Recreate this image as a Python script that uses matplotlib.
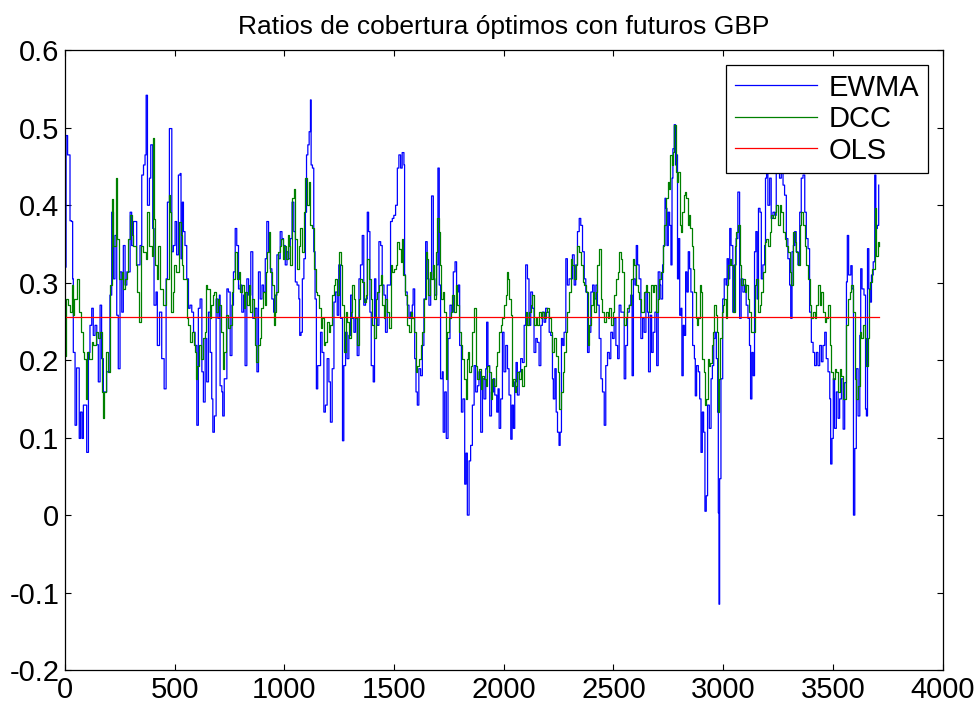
import matplotlib
matplotlib.use('Agg')
import matplotlib.pyplot as plt

# fuente estilo MATLAB (estrecha)
plt.rcParams['font.family'] = ['Liberation Sans Narrow', 'Liberation Sans', 'DejaVu Sans']

TITLE = 'Ratios de cobertura óptimos con futuros GBP'
LABELS = ['EWMA', 'DCC', 'OLS']
OLS_VALUE = 0.256
OLS_RANGE = [1, 3709]
X_TICKS = [0, 500, 1000, 1500, 2000, 2500, 3000, 3500, 4000]
Y_TICKS = [-0.2, -0.1, 0, 0.1, 0.2, 0.3, 0.4, 0.5, 0.6]

# (dia, ratio)
EWMA = [
    (0, 0.32), (5, 0.49), (12, 0.465), (23, 0.38), (30, 0.379), (35, 0.305), (38, 0.21), (46, 0.116),
    (53, 0.19), (65, 0.099), (71, 0.133), (78, 0.099), (84, 0.142), (91, 0.142), (99, 0.081), (107, 0.21),
    (114, 0.245), (122, 0.267), (129, 0.232), (137, 0.245), (145, 0.22), (152, 0.172), (160, 0.271),
    (167, 0.202), (175, 0.159), (190, 0.185), (205, 0.284), (213, 0.391), (221, 0.305), (228, 0.361),
    (236, 0.258), (243, 0.189), (251, 0.314), (259, 0.262), (266, 0.348), (274, 0.297), (282, 0.314),
    (297, 0.391), (304, 0.348), (312, 0.379), (327, 0.323), (342, 0.348), (350, 0.439), (358, 0.452),
    (365, 0.465), (370, 0.542), (376, 0.40), (385, 0.435), (391, 0.478), (400, 0.37), (406, 0.271),
    (415, 0.288), (421, 0.219), (431, 0.262), (441, 0.202), (452, 0.163), (461, 0.305), (467, 0.404),
    (476, 0.499), (487, 0.34), (494, 0.348), (502, 0.379), (509, 0.336), (517, 0.439), (525, 0.441),
    (529, 0.331), (535, 0.404), (540, 0.366), (547, 0.348), (555, 0.305), (563, 0.267), (570, 0.271),
    (578, 0.262), (586, 0.236), (593, 0.219), (601, 0.116), (608, 0.267), (616, 0.279), (624, 0.185),
    (631, 0.146), (639, 0.228), (646, 0.172), (654, 0.262), (662, 0.21), (669, 0.15), (674, 0.107),
    (681, 0.128), (689, 0.279), (697, 0.254), (704, 0.284), (707, 0.167), (715, 0.159), (719, 0.128),
    (726, 0.176), (738, 0.292), (745, 0.288), (753, 0.206), (761, 0.271), (768, 0.314), (776, 0.37),
    (783, 0.348), (791, 0.292), (799, 0.297), (806, 0.262), (814, 0.284), (821, 0.193), (829, 0.305),
    (837, 0.284), (847, 0.34), (856, 0.254), (867, 0.267), (875, 0.185), (882, 0.314), (890, 0.279),
    (898, 0.297), (905, 0.288), (913, 0.331), (920, 0.379), (928, 0.34), (936, 0.318), (943, 0.279),
    (951, 0.262), (958, 0.284), (966, 0.336), (974, 0.331), (981, 0.366), (989, 0.357), (996, 0.348),
    (1004, 0.323), (1012, 0.34), (1019, 0.331), (1027, 0.357), (1035, 0.404), (1043, 0.366),
    (1050, 0.301), (1058, 0.297), (1066, 0.279), (1070, 0.232), (1076, 0.236), (1082, 0.305),
    (1089, 0.331), (1096, 0.391), (1101, 0.465), (1107, 0.478), (1113, 0.495), (1119, 0.536),
    (1122, 0.452), (1128, 0.448), (1134, 0.34), (1140, 0.279), (1146, 0.163), (1152, 0.193),
    (1159, 0.193), (1165, 0.236), (1172, 0.21), (1180, 0.133), (1187, 0.142), (1195, 0.202),
    (1203, 0.172), (1210, 0.12), (1218, 0.189), (1226, 0.275), (1233, 0.288), (1241, 0.258),
    (1248, 0.323), (1256, 0.254), (1265, 0.096), (1271, 0.193), (1279, 0.236), (1286, 0.202),
    (1294, 0.232), (1302, 0.284), (1309, 0.254), (1317, 0.236), (1324, 0.254), (1332, 0.206),
    (1340, 0.305), (1347, 0.323), (1355, 0.361), (1362, 0.271), (1370, 0.279), (1378, 0.391),
    (1384, 0.366), (1390, 0.262), (1396, 0.193), (1405, 0.172), (1411, 0.305), (1417, 0.254),
    (1423, 0.245), (1431, 0.353), (1439, 0.348), (1446, 0.297), (1454, 0.284), (1461, 0.236),
    (1469, 0.297), (1477, 0.297), (1484, 0.379), (1492, 0.383), (1499, 0.387), (1507, 0.40),
    (1515, 0.448), (1522, 0.465), (1530, 0.448), (1537, 0.468), (1545, 0.452), (1548, 0.31),
    (1552, 0.288), (1560, 0.271), (1568, 0.254), (1575, 0.262), (1583, 0.271), (1587, 0.292),
    (1594, 0.202), (1600, 0.159), (1606, 0.142), (1613, 0.189), (1621, 0.18), (1629, 0.219),
    (1636, 0.279), (1644, 0.353), (1651, 0.305), (1659, 0.271), (1667, 0.305), (1671, 0.412),
    (1679, 0.305), (1686, 0.284), (1694, 0.323), (1700, 0.448), (1706, 0.297), (1712, 0.176),
    (1720, 0.185), (1724, 0.107), (1731, 0.159), (1738, 0.099), (1746, 0.228), (1755, 0.271),
    (1763, 0.262), (1770, 0.314), (1778, 0.327), (1785, 0.288), (1793, 0.297), (1799, 0.219),
    (1807, 0.133), (1814, 0.15), (1822, 0.04), (1828, 0.08), (1834, 0.0), (1842, 0.07), (1849, 0.09),
    (1857, 0.142), (1865, 0.193), (1872, 0.159), (1880, 0.167), (1887, 0.185), (1895, 0.107),
    (1903, 0.176), (1910, 0.15), (1918, 0.189), (1922, 0.249), (1928, 0.193), (1936, 0.128),
    (1944, 0.159), (1953, 0.176), (1959, 0.155), (1968, 0.133), (1974, 0.163), (1979, 0.112),
    (1986, 0.15), (1994, 0.236), (2001, 0.185), (2009, 0.219), (2017, 0.189), (2024, 0.155),
    (2032, 0.098), (2038, 0.142), (2044, 0.112), (2050, 0.172), (2056, 0.197), (2062, 0.155),
    (2070, 0.185), (2077, 0.202), (2085, 0.197), (2093, 0.245), (2100, 0.323), (2108, 0.305),
    (2115, 0.245), (2123, 0.288), (2131, 0.267), (2138, 0.21), (2146, 0.228), (2153, 0.223),
    (2161, 0.193), (2169, 0.245), (2176, 0.262), (2184, 0.249), (2191, 0.267), (2199, 0.262),
    (2207, 0.236), (2214, 0.232), (2222, 0.176), (2226, 0.15), (2233, 0.189), (2239, 0.133),
    (2245, 0.107), (2252, 0.09), (2257, 0.107), (2263, 0.228), (2269, 0.219), (2275, 0.236),
    (2283, 0.331), (2290, 0.297), (2298, 0.305), (2306, 0.305), (2313, 0.336), (2321, 0.297),
    (2328, 0.323), (2336, 0.366), (2344, 0.383), (2351, 0.374), (2359, 0.34), (2367, 0.305),
    (2374, 0.288), (2382, 0.21), (2389, 0.236), (2397, 0.288), (2405, 0.297), (2412, 0.279),
    (2420, 0.297), (2427, 0.271), (2435, 0.228), (2443, 0.176), (2450, 0.159), (2458, 0.116),
    (2465, 0.193), (2473, 0.21), (2481, 0.202), (2488, 0.236), (2496, 0.228), (2503, 0.254),
    (2511, 0.219), (2519, 0.202), (2526, 0.271), (2534, 0.262), (2541, 0.262), (2549, 0.176),
    (2556, 0.219), (2564, 0.262), (2572, 0.271), (2579, 0.284), (2585, 0.18), (2591, 0.305),
    (2598, 0.297), (2604, 0.348), (2610, 0.323), (2617, 0.305), (2625, 0.228), (2633, 0.254),
    (2640, 0.236), (2648, 0.288), (2655, 0.262), (2660, 0.185), (2668, 0.258), (2674, 0.21),
    (2681, 0.236), (2689, 0.262), (2697, 0.193), (2704, 0.314), (2712, 0.297), (2716, 0.279),
    (2724, 0.323), (2728, 0.348), (2735, 0.409), (2739, 0.396), (2744, 0.348), (2750, 0.391),
    (2756, 0.374), (2762, 0.323), (2767, 0.435), (2771, 0.473), (2777, 0.504), (2783, 0.452),
    (2788, 0.465), (2792, 0.305), (2797, 0.357), (2802, 0.258), (2808, 0.267), (2812, 0.18),
    (2818, 0.245), (2823, 0.232), (2829, 0.314), (2835, 0.288), (2841, 0.34), (2847, 0.318),
    (2853, 0.288), (2861, 0.219), (2869, 0.202), (2873, 0.154), (2879, 0.193), (2887, 0.185),
    (2893, 0.15), (2899, 0.081), (2905, 0.133), (2911, 0.107), (2917, 0.005), (2923, 0.025),
    (2929, 0.142), (2937, 0.112), (2945, 0.176), (2951, 0.193), (2957, 0.228), (2963, 0.236),
    (2969, 0.202), (2975, 0.133), (2978, 0.003), (2981, -0.115), (2984, 0.047), (2990, 0.176),
    (2998, 0.279), (3005, 0.305), (3013, 0.297), (3018, 0.331), (3024, 0.305), (3030, 0.37),
    (3036, 0.348), (3044, 0.262), (3052, 0.323), (3059, 0.357), (3067, 0.417), (3075, 0.254),
    (3082, 0.305), (3090, 0.288), (3098, 0.297), (3105, 0.271), (3113, 0.254), (3120, 0.219),
    (3125, 0.15), (3131, 0.21), (3137, 0.18), (3143, 0.34), (3149, 0.366), (3155, 0.279),
    (3161, 0.396), (3168, 0.391), (3174, 0.305), (3181, 0.323), (3189, 0.348), (3193, 0.435),
    (3198, 0.48), (3204, 0.40), (3212, 0.435), (3219, 0.383), (3227, 0.391), (3235, 0.387),
    (3242, 0.47), (3250, 0.46), (3257, 0.435), (3265, 0.47), (3273, 0.426), (3280, 0.413),
    (3288, 0.357), (3295, 0.331), (3303, 0.297), (3308, 0.254), (3314, 0.34), (3320, 0.348),
    (3326, 0.366), (3333, 0.34), (3341, 0.323), (3349, 0.391), (3356, 0.435), (3364, 0.439),
    (3372, 0.391), (3379, 0.357), (3387, 0.344), (3394, 0.262), (3402, 0.223), (3410, 0.21),
    (3417, 0.193), (3425, 0.21), (3432, 0.193), (3440, 0.219), (3448, 0.198), (3455, 0.219),
    (3463, 0.236), (3470, 0.202), (3478, 0.185), (3486, 0.15), (3490, 0.066), (3496, 0.099),
    (3502, 0.176), (3508, 0.112), (3516, 0.159), (3524, 0.125), (3531, 0.15), (3539, 0.176),
    (3547, 0.111), (3554, 0.171), (3562, 0.301), (3566, 0.361), (3572, 0.31), (3582, 0.322),
    (3588, 0.292), (3594, 0.0), (3600, 0.086), (3607, 0.189), (3615, 0.128), (3623, 0.232),
    (3627, 0.318), (3633, 0.292), (3642, 0.284), (3649, 0.137), (3653, 0.128), (3658, 0.344),
    (3664, 0.292), (3670, 0.275), (3676, 0.31), (3684, 0.327), (3691, 0.439), (3696, 0.37),
    (3703, 0.374), (3709, 0.426),
]

DCC = [
    (0, 0.206), (5, 0.279), (15, 0.271), (23, 0.262), (30, 0.297), (35, 0.258), (41, 0.279), (53, 0.288),
    (56, 0.305), (65, 0.262), (71, 0.236), (80, 0.21), (87, 0.202), (96, 0.15), (102, 0.21), (111, 0.202),
    (122, 0.224), (129, 0.219), (141, 0.236), (152, 0.228), (160, 0.236), (167, 0.159), (172, 0.125),
    (178, 0.159), (187, 0.21), (198, 0.185), (205, 0.297), (213, 0.408), (221, 0.348), (233, 0.435),
    (239, 0.357), (248, 0.305), (259, 0.314), (266, 0.292), (274, 0.305), (282, 0.314), (289, 0.357),
    (297, 0.387), (304, 0.361), (312, 0.348), (324, 0.323), (330, 0.288), (339, 0.249), (345, 0.348),
    (355, 0.34), (370, 0.33), (376, 0.391), (385, 0.348), (395, 0.335), (401, 0.487), (406, 0.382),
    (411, 0.323), (418, 0.305), (426, 0.348), (434, 0.292), (449, 0.271), (461, 0.305), (472, 0.413),
    (479, 0.391), (484, 0.262), (491, 0.288), (497, 0.323), (505, 0.314), (512, 0.314), (522, 0.379),
    (528, 0.361), (534, 0.323), (540, 0.305), (547, 0.305), (555, 0.254), (563, 0.245), (570, 0.224),
    (578, 0.236), (586, 0.219), (593, 0.21), (598, 0.176), (604, 0.193), (613, 0.219), (619, 0.202),
    (628, 0.228), (636, 0.236), (643, 0.297), (649, 0.292), (659, 0.254), (665, 0.271), (674, 0.284),
    (681, 0.288), (689, 0.262), (697, 0.279), (704, 0.271), (712, 0.236), (719, 0.189), (727, 0.21),
    (735, 0.258), (742, 0.241), (753, 0.245), (761, 0.288), (768, 0.305), (776, 0.34), (783, 0.305),
    (791, 0.314), (799, 0.288), (806, 0.297), (814, 0.267), (821, 0.288), (829, 0.271), (837, 0.297),
    (844, 0.262), (852, 0.279), (860, 0.254), (867, 0.219), (872, 0.198), (878, 0.219), (887, 0.228),
    (893, 0.267), (902, 0.288), (910, 0.271), (917, 0.314), (923, 0.34), (931, 0.366), (936, 0.314),
    (943, 0.297), (951, 0.245), (958, 0.262), (963, 0.288), (971, 0.34), (978, 0.348), (984, 0.357),
    (992, 0.331), (999, 0.348), (1007, 0.331), (1015, 0.361), (1022, 0.348), (1027, 0.323),
    (1035, 0.409), (1043, 0.421), (1050, 0.357), (1058, 0.318), (1066, 0.348), (1073, 0.37),
    (1081, 0.34), (1089, 0.391), (1096, 0.435), (1104, 0.40), (1111, 0.43), (1119, 0.374),
    (1127, 0.37), (1134, 0.318), (1142, 0.288), (1149, 0.284), (1157, 0.267), (1165, 0.241),
    (1172, 0.254), (1180, 0.219), (1187, 0.223), (1195, 0.249), (1203, 0.236), (1210, 0.245),
    (1218, 0.284), (1226, 0.297), (1233, 0.305), (1241, 0.284), (1248, 0.34), (1256, 0.323),
    (1264, 0.271), (1271, 0.21), (1279, 0.262), (1286, 0.249), (1294, 0.228), (1302, 0.262),
    (1309, 0.297), (1317, 0.279), (1324, 0.254), (1332, 0.219), (1340, 0.279), (1347, 0.305),
    (1355, 0.301), (1362, 0.275), (1370, 0.284), (1378, 0.331), (1385, 0.305), (1393, 0.279),
    (1401, 0.245), (1408, 0.228), (1416, 0.279), (1423, 0.288), (1431, 0.297), (1439, 0.31),
    (1446, 0.271), (1454, 0.254), (1461, 0.279), (1469, 0.262), (1477, 0.241), (1484, 0.323),
    (1492, 0.314), (1499, 0.318), (1507, 0.323), (1515, 0.353), (1522, 0.344), (1530, 0.327),
    (1537, 0.357), (1542, 0.31), (1548, 0.297), (1552, 0.284), (1560, 0.245), (1568, 0.236),
    (1575, 0.262), (1583, 0.254), (1590, 0.236), (1598, 0.185), (1606, 0.193), (1613, 0.202),
    (1621, 0.219), (1629, 0.236), (1636, 0.279), (1644, 0.34), (1648, 0.331), (1654, 0.284),
    (1664, 0.314), (1670, 0.305), (1676, 0.323), (1682, 0.279), (1689, 0.34), (1697, 0.383),
    (1703, 0.366), (1709, 0.323), (1715, 0.279), (1723, 0.288), (1728, 0.262), (1735, 0.176),
    (1743, 0.236), (1750, 0.254), (1758, 0.262), (1766, 0.284), (1773, 0.262), (1781, 0.297),
    (1788, 0.271), (1796, 0.236), (1804, 0.219), (1811, 0.202), (1819, 0.176), (1826, 0.15),
    (1831, 0.202), (1837, 0.21), (1843, 0.185), (1849, 0.193), (1857, 0.236), (1865, 0.267),
    (1872, 0.193), (1880, 0.176), (1887, 0.189), (1895, 0.163), (1903, 0.18), (1910, 0.176),
    (1918, 0.167), (1925, 0.193), (1933, 0.185), (1941, 0.15), (1948, 0.176), (1956, 0.167),
    (1964, 0.193), (1971, 0.21), (1979, 0.236), (1986, 0.245), (1994, 0.254), (2001, 0.271),
    (2009, 0.284), (2014, 0.314), (2020, 0.305), (2024, 0.279), (2032, 0.258), (2038, 0.167),
    (2044, 0.176), (2050, 0.159), (2056, 0.167), (2062, 0.185), (2070, 0.176), (2077, 0.189),
    (2085, 0.167), (2093, 0.193), (2100, 0.262), (2108, 0.245), (2115, 0.262), (2123, 0.271),
    (2131, 0.284), (2138, 0.245), (2146, 0.254), (2153, 0.245), (2161, 0.262), (2169, 0.254),
    (2176, 0.262), (2184, 0.254), (2191, 0.262), (2199, 0.267), (2207, 0.254), (2214, 0.236),
    (2222, 0.21), (2229, 0.228), (2237, 0.206), (2245, 0.185), (2252, 0.137), (2260, 0.159),
    (2268, 0.185), (2275, 0.21), (2283, 0.236), (2290, 0.262), (2298, 0.288), (2306, 0.331),
    (2313, 0.323), (2321, 0.305), (2328, 0.323), (2336, 0.348), (2344, 0.34), (2351, 0.323),
    (2359, 0.301), (2367, 0.297), (2374, 0.288), (2382, 0.219), (2389, 0.245), (2397, 0.271),
    (2405, 0.288), (2412, 0.262), (2420, 0.288), (2427, 0.323), (2435, 0.344), (2443, 0.279),
    (2450, 0.262), (2458, 0.249), (2465, 0.262), (2473, 0.254), (2481, 0.267), (2488, 0.245),
    (2496, 0.262), (2503, 0.284), (2511, 0.305), (2519, 0.314), (2526, 0.34), (2534, 0.331),
    (2541, 0.314), (2549, 0.245), (2556, 0.254), (2564, 0.267), (2572, 0.271), (2579, 0.305),
    (2587, 0.331), (2594, 0.323), (2602, 0.297), (2610, 0.288), (2617, 0.279), (2625, 0.262),
    (2633, 0.262), (2640, 0.288), (2648, 0.297), (2655, 0.288), (2663, 0.262), (2671, 0.297),
    (2678, 0.288), (2686, 0.297), (2693, 0.262), (2701, 0.279), (2709, 0.305), (2716, 0.314),
    (2724, 0.348), (2732, 0.374), (2739, 0.409), (2747, 0.43), (2754, 0.421), (2759, 0.465),
    (2765, 0.452), (2771, 0.469), (2777, 0.504), (2783, 0.443), (2789, 0.43), (2795, 0.443),
    (2802, 0.374), (2808, 0.366), (2814, 0.391), (2820, 0.413), (2826, 0.417), (2832, 0.409),
    (2838, 0.374), (2844, 0.387), (2850, 0.37), (2856, 0.348), (2862, 0.318), (2869, 0.288),
    (2875, 0.254), (2881, 0.245), (2887, 0.254), (2893, 0.297), (2899, 0.288), (2905, 0.202),
    (2911, 0.185), (2917, 0.142), (2923, 0.15), (2929, 0.202), (2935, 0.193), (2942, 0.197),
    (2948, 0.219), (2954, 0.236), (2960, 0.271), (2966, 0.258), (2972, 0.236), (2978, 0.133),
    (2983, 0.176), (2987, 0.228), (2993, 0.262), (2999, 0.271), (3005, 0.279), (3011, 0.254),
    (3018, 0.297), (3024, 0.323), (3030, 0.331), (3036, 0.323), (3044, 0.262), (3052, 0.348),
    (3059, 0.366), (3067, 0.374), (3075, 0.323), (3082, 0.297), (3090, 0.305), (3098, 0.288),
    (3105, 0.297), (3113, 0.279), (3120, 0.262), (3128, 0.236), (3136, 0.236), (3143, 0.297),
    (3151, 0.305), (3159, 0.262), (3166, 0.271), (3174, 0.288), (3181, 0.314), (3189, 0.353),
    (3197, 0.357), (3204, 0.348), (3212, 0.366), (3219, 0.387), (3227, 0.383), (3235, 0.391),
    (3242, 0.40), (3250, 0.374), (3257, 0.40), (3265, 0.391), (3273, 0.366), (3280, 0.357),
    (3288, 0.348), (3295, 0.34), (3303, 0.314), (3311, 0.297), (3318, 0.366), (3326, 0.353),
    (3333, 0.34), (3341, 0.323), (3349, 0.374), (3356, 0.391), (3364, 0.374), (3372, 0.348),
    (3379, 0.323), (3387, 0.305), (3394, 0.271), (3402, 0.254), (3410, 0.262), (3417, 0.254),
    (3425, 0.271), (3432, 0.297), (3440, 0.271), (3448, 0.288), (3455, 0.262), (3463, 0.249),
    (3470, 0.254), (3478, 0.271), (3486, 0.219), (3493, 0.185), (3501, 0.176), (3508, 0.189),
    (3516, 0.185), (3524, 0.159), (3531, 0.189), (3539, 0.18), (3547, 0.15), (3554, 0.15),
    (3562, 0.245), (3569, 0.279), (3577, 0.288), (3585, 0.297), (3592, 0.262), (3600, 0.176),
    (3607, 0.15), (3615, 0.167), (3623, 0.236), (3630, 0.228), (3638, 0.245), (3645, 0.228),
    (3653, 0.193), (3661, 0.228), (3664, 0.292), (3670, 0.301), (3680, 0.318), (3691, 0.396),
    (3698, 0.335), (3705, 0.353), (3709, 0.348),
]


def main():
    fig = plt.figure(figsize=(9.74, 7.05), dpi=100)
    ax = fig.add_axes([0.0667, 0.0496, 0.901, 0.879])

    ewma_x, ewma_y = zip(*EWMA)
    dcc_x, dcc_y = zip(*DCC)

    # datos diarios: se dibujan en escalones como en MATLAB
    ax.plot(ewma_x, ewma_y, color=(0, 0, 1), linewidth=0.9, drawstyle='steps-post', label=LABELS[0])
    ax.plot(dcc_x, dcc_y, color=(0, 0.5, 0), linewidth=0.9, drawstyle='steps-post', label=LABELS[1])
    ax.plot(OLS_RANGE, [OLS_VALUE, OLS_VALUE], color=(1, 0, 0), linewidth=0.9, label=LABELS[2])

    ax.set_xlim(0, 4000)
    ax.set_ylim(-0.2, 0.6)
    ax.set_xticks(X_TICKS)
    ax.set_yticks(Y_TICKS)
    ax.set_xticklabels([str(t) for t in X_TICKS])
    ax.set_yticklabels(['%g' % t for t in Y_TICKS])
    ax.tick_params(direction='in', top=True, right=True, length=4, width=0.8,
                   labelsize=21, pad=4)
    for sp in ax.spines.values():
        sp.set_linewidth(0.9)

    ax.set_title(TITLE, fontsize=19, pad=12)

    leg = ax.legend(loc='upper right', fontsize=21, fancybox=False, framealpha=1,
                    edgecolor='black', handlelength=2.8, handletextpad=0.4,
                    labelspacing=0.12, borderpad=0.3, borderaxespad=0.5)
    leg.get_frame().set_linewidth(0.9)

    fig.savefig('out.png', dpi=100, facecolor='white')
    plt.close(fig)


if __name__ == '__main__':
    main()
